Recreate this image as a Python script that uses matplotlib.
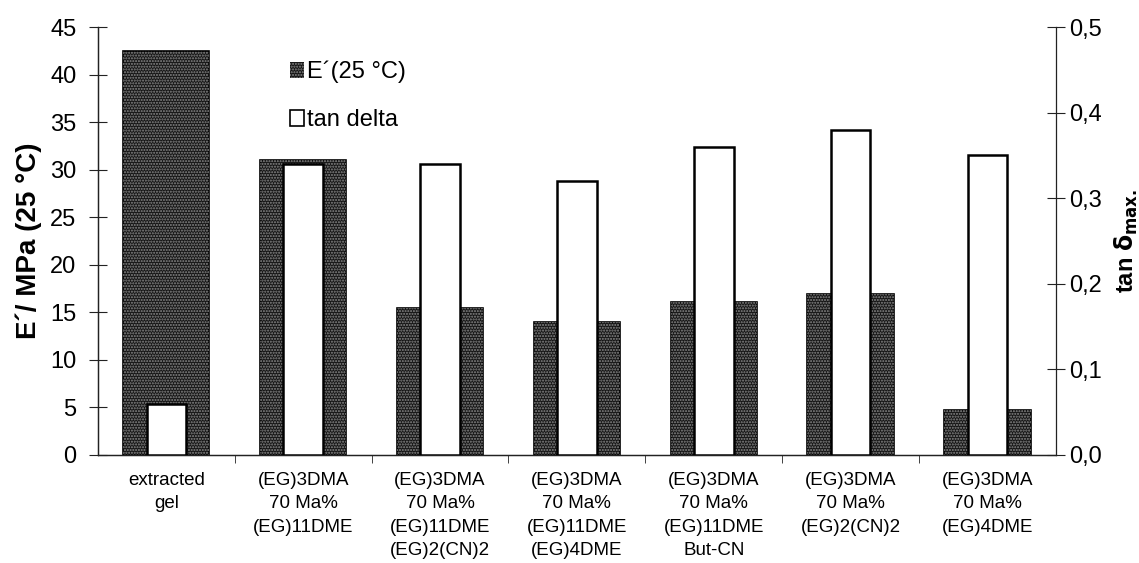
import matplotlib.pyplot as plt
import numpy as np
from matplotlib.patches import Patch

plt.rcParams['font.family'] = ['Liberation Sans', 'DejaVu Sans']

# sample labels
samples = ["extracted\ngel",
           "(EG)3DMA\n70 Ma%\n(EG)11DME",
           "(EG)3DMA\n70 Ma%\n(EG)11DME\n(EG)2(CN)2",
           "(EG)3DMA\n70 Ma%\n(EG)11DME\n(EG)4DME",
           "(EG)3DMA\n70 Ma%\n(EG)11DME\nBut-CN",
           "(EG)3DMA\n70 Ma%\n(EG)2(CN)2",
           "(EG)3DMA\n70 Ma%\n(EG)4DME"]
# storage modulus at 25 C, MPa
e_modulus = [42.5, 31.0, 15.4, 14.0, 16.1, 16.9, 4.7]
# tan delta max
tan_delta = [0.06, 0.34, 0.34, 0.32, 0.36, 0.38, 0.35]

x = np.arange(len(samples))
ink = '#222222'

fig = plt.figure(figsize=(11.39, 5.63), dpi=100)
ax = fig.add_axes([0.086, 0.192, 0.841, 0.76])
ax2 = ax.twinx()

# dark dotted bars: black fill plus light dot hatch on top
ax.bar(x, e_modulus, width=0.63, color='#161616', edgecolor='black', linewidth=1.2, zorder=2)
ax.bar(x, e_modulus, width=0.63, color='none', edgecolor='#8a8a8a', hatch='......', linewidth=0, zorder=3)
ax2.bar(x, tan_delta, width=0.29, color='white', edgecolor='black', linewidth=1.8, zorder=3)

ax.set_xlim(-0.5, len(samples) - 0.5)
ax.set_ylim(0, 45)
ax2.set_ylim(0, 0.5)
ax.set_yticks(np.arange(0, 46, 5))
ax2.set_yticks(np.arange(0, 0.51, 0.1))
ax2.set_yticklabels([f"{v:.1f}".replace('.', ',') for v in np.arange(0, 0.51, 0.1)])

ax.set_xticks(x)
ax.set_xticklabels(samples, fontsize=13.5, linespacing=1.5)
ax.tick_params(axis='x', which='major', length=0, pad=12)
ax.set_xticks(np.arange(0.5, len(samples) - 0.5, 1), minor=True)
ax.tick_params(axis='x', which='minor', direction='out', length=6, color=ink)

ax.tick_params(axis='y', direction='inout', length=13, labelsize=17, color=ink, pad=9)
ax2.tick_params(axis='y', direction='inout', length=13, labelsize=17, color=ink, pad=3)

for a in (ax, ax2):
    a.spines['top'].set_visible(False)
    for s in ('left', 'right', 'bottom'):
        a.spines[s].set_color(ink)
        a.spines[s].set_linewidth(0.9)
ax.spines['right'].set_visible(False)

ax.set_ylabel("E´/ MPa (25 °C)", fontsize=20, fontweight='bold', labelpad=6)
ax2.set_ylabel(r"tan $\mathbf{\delta}_{\mathbf{max.}}$", fontsize=17, fontweight='bold', labelpad=8)

handles = [Patch(facecolor='#161616', edgecolor='#8a8a8a', hatch='......', linewidth=0),
           Patch(facecolor='white', edgecolor='black', linewidth=1.2)]
fig.legend(handles, ["E´(25 °C)", "tan delta"], loc='upper left',
           bbox_to_anchor=(0.236, 0.93), frameon=False, fontsize=17,
           handlelength=0.6, handleheight=0.7, handletextpad=0.1, labelspacing=1.1)

fig.savefig("out.png", dpi=100)
